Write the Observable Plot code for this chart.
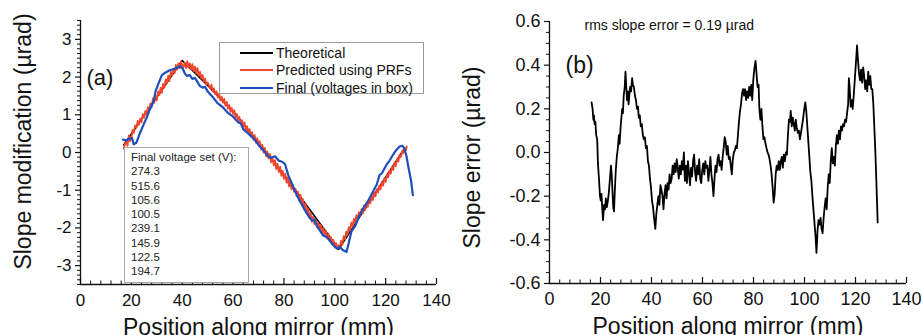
<!DOCTYPE html>
<html><head><meta charset="utf-8">
<script src="https://cdn.jsdelivr.net/npm/d3@7"></script>
<script src="https://cdn.jsdelivr.net/npm/@observablehq/plot@0.6"></script>
<style>
body{margin:0;background:#fff;font-family:"Liberation Sans",Arial,sans-serif;}
#wrap{display:flex;width:922px;height:335px;overflow:hidden;background:#fff;}
.panel{position:relative;width:461px;height:335px;}
.legend{position:absolute;left:219px;top:42px;width:203px;height:50px;border:1px solid #9a9a9a;background:#fff;font-size:14px;color:#111;}
.legend .row{position:absolute;left:20px;height:18px;display:flex;align-items:center;}
.legend .row span{margin-left:3px;white-space:nowrap;}
.vbox{position:absolute;left:124px;top:147px;width:117px;height:132px;border:1px solid #a8a8a8;background:#fff;font-size:11.5px;line-height:14.3px;color:#222;padding:2px 0 0 6px;box-sizing:content-box;}
</style></head><body>
<div id="wrap"><div class="panel" id="pa"></div><div class="panel" id="pb"></div></div>
<script>
// ---------- data ----------
const theoPts = [[17,0.20],[40,2.44],[50,1.78],[60,1.09],[70,0.27],[80,-0.59],[90,-1.50],[100,-2.42],[101.5,-2.57],[127,0.07]];
const predPts = [[17,0.10],[17.5,0.22],[18,0.28],[18.5,0.18],[19,0.45],[19.5,0.30],[20,0.38],[20.5,0.60],[21,0.52],[21.5,0.72],[22,0.66],[22.5,0.84],[23,0.74],[23.5,0.90],[24,0.80],[24.5,1.02],[25,0.92],[25.5,1.10],[26,1.00],[26.5,1.20],[27,1.10],[27.5,1.30],[28,1.20],[28.5,1.44],[29,1.32],[29.5,1.50],[30,1.38],[30.5,1.62],[31,1.52],[31.5,1.72],[32,1.58],[32.5,1.82],[33,1.72],[33.5,1.94],[34,1.84],[34.5,2.04],[35,1.90],[35.5,2.14],[36,2.04],[36.5,2.22],[37,2.10],[37.5,2.32],[38,2.20],[38.5,2.36],[39,2.24],[39.5,2.42],[40,2.32],[40.5,2.26],[41,2.38],[41.5,2.24],[42,2.42],[42.5,2.26],[43,2.36],[43.5,2.20],[44,2.34],[44.5,2.16],[45,2.28],[45.5,2.10],[46,2.24],[46.5,2.04],[47,2.14],[47.5,1.96],[48,2.06],[48.5,1.88],[49,1.96],[49.5,1.80],[50,1.86],[51,1.70],[51.5,1.80],[52,1.62],[52.5,1.70],[53,1.54],[53.5,1.62],[54,1.46],[54.5,1.56],[55,1.38],[55.5,1.48],[56,1.32],[56.5,1.42],[57,1.24],[57.5,1.34],[58,1.16],[58.5,1.26],[59,1.08],[59.5,1.18],[60,1.02],[60.5,1.12],[61,0.92],[61.5,1.02],[62,0.86],[62.5,0.94],[63,0.76],[63.5,0.86],[64,0.68],[64.5,0.80],[65,0.58],[65.5,0.70],[66,0.52],[66.5,0.62],[67,0.42],[67.5,0.54],[68,0.34],[68.5,0.46],[69,0.26],[69.5,0.38],[70,0.18],[70.5,0.30],[71,0.08],[71.5,0.20],[72,0.00],[72.5,0.12],[73,-0.10],[73.5,0.02],[74,-0.16],[74.5,-0.04],[75,-0.26],[75.5,-0.12],[76,-0.34],[76.5,-0.20],[77,-0.44],[77.5,-0.30],[78,-0.52],[78.5,-0.38],[79,-0.62],[79.5,-0.48],[80,-0.70],[80.5,-0.56],[81,-0.80],[81.5,-0.66],[82,-0.90],[82.5,-0.76],[83,-0.98],[83.5,-0.86],[84,-1.04],[84.5,-0.96],[85,-1.16],[85.5,-1.04],[86,-1.26],[86.5,-1.12],[87,-1.38],[87.5,-1.24],[88,-1.50],[88.5,-1.36],[89,-1.62],[89.5,-1.48],[90,-1.74],[90.5,-1.60],[91,-1.84],[91.5,-1.70],[92,-1.90],[92.5,-1.78],[93,-1.98],[93.5,-1.86],[94,-2.04],[94.5,-1.92],[95,-2.12],[95.5,-2.00],[96,-2.20],[96.5,-2.08],[97,-2.28],[97.5,-2.16],[98,-2.34],[98.5,-2.24],[99,-2.44],[99.5,-2.32],[100,-2.52],[100.5,-2.40],[101,-2.56],[101.5,-2.46],[102,-2.52],[102.5,-2.34],[103,-2.44],[103.5,-2.22],[104,-2.30],[104.5,-2.10],[105,-2.18],[105.5,-1.98],[106,-2.06],[106.5,-1.86],[107,-1.96],[107.5,-1.76],[108,-1.86],[108.5,-1.66],[109,-1.76],[109.5,-1.58],[110,-1.68],[110.5,-1.50],[111,-1.62],[111.5,-1.40],[112,-1.52],[112.5,-1.32],[113,-1.44],[113.5,-1.24],[114,-1.34],[114.5,-1.16],[115,-1.26],[115.5,-1.06],[116,-1.16],[116.5,-0.98],[117,-1.06],[117.5,-0.88],[118,-0.98],[118.5,-0.78],[119,-0.88],[119.5,-0.68],[120,-0.78],[120.5,-0.58],[121,-0.66],[121.5,-0.48],[122,-0.56],[122.5,-0.38],[123,-0.46],[123.5,-0.26],[124,-0.36],[124.5,-0.16],[125,-0.24],[125.5,-0.06],[126,-0.12],[126.5,0.04],[127,-0.02],[127.5,0.12],[128,0.06],[128.3,0.16]];
const finalPts = [[16.7,0.34],[18,0.32],[19,0.36],[20.3,0.38],[20.9,0.22],[22,0.26],[23,0.45],[24.8,0.74],[26,0.92],[27,1.10],[28.8,1.36],[29.5,1.62],[30.5,1.80],[32,2.05],[33,2.10],[35,2.18],[37,2.22],[38.5,2.26],[39.2,2.29],[40.2,2.22],[41,2.10],[41.8,2.03],[43,2.05],[44,1.95],[45,1.98],[47,1.76],[48,1.72],[49,1.74],[50,1.62],[52.3,1.45],[54,1.30],[56,1.20],[58,1.05],[60,0.95],[62,0.80],[63,0.78],[64,0.62],[66,0.50],[68,0.38],[70,0.20],[72,0.05],[73.9,-0.11],[75,-0.14],[76.5,-0.10],[78,-0.22],[79.1,-0.24],[80.4,-0.30],[81.7,-0.60],[83,-0.80],[84.5,-1.05],[86,-1.25],[88,-1.50],[90,-1.72],[91,-1.80],[92,-1.78],[93,-1.95],[95.4,-2.20],[97,-2.25],[98.5,-2.38],[100,-2.50],[101,-2.55],[102,-2.50],[103,-2.58],[104.6,-2.64],[105.5,-2.40],[106.5,-2.10],[108,-1.95],[109.5,-1.70],[111.1,-1.49],[113,-1.30],[115,-1.04],[116.5,-0.85],[117.6,-0.60],[118.5,-0.55],[120.3,-0.33],[121.5,-0.22],[122.9,-0.06],[124,0.05],[125.5,0.16],[126.5,0.18],[127.3,0.12],[128.2,-0.10],[128.8,-0.33],[130,-0.75],[130.7,-1.13]];
const errPts = [[16.5,0.23],[16.9,0.20],[17.2,0.15],[17.4,0.17],[17.7,0.13],[18.0,0.14],[18.3,0.08],[18.7,0.06],[19.0,-0.05],[19.4,-0.12],[19.8,-0.20],[20.1,-0.22],[20.4,-0.19],[20.7,-0.26],[21.0,-0.31],[21.4,-0.24],[21.8,-0.26],[22.1,-0.21],[22.5,-0.25],[22.9,-0.22],[23.3,-0.18],[23.7,-0.12],[24.1,-0.06],[24.4,-0.10],[24.7,-0.18],[25.0,-0.25],[25.3,-0.27],[25.6,-0.18],[26.0,-0.08],[26.4,-0.02],[26.8,0.02],[27.2,0.08],[27.5,0.04],[27.9,0.12],[28.2,0.16],[28.5,0.20],[28.8,0.18],[29.1,0.26],[29.5,0.30],[29.8,0.37],[30.1,0.30],[30.4,0.24],[30.7,0.28],[31.0,0.22],[31.3,0.26],[31.6,0.30],[32.0,0.28],[32.4,0.34],[32.7,0.31],[33.1,0.30],[33.5,0.26],[33.9,0.24],[34.3,0.20],[34.7,0.21],[35.0,0.16],[35.4,0.17],[35.8,0.12],[36.2,0.13],[36.6,0.08],[37.0,0.06],[37.4,0.07],[37.8,0.02],[38.2,0.03],[38.6,-0.04],[39.0,-0.06],[39.4,-0.12],[39.8,-0.16],[40.2,-0.22],[40.6,-0.25],[41.0,-0.30],[41.5,-0.35],[41.9,-0.28],[42.3,-0.24],[42.7,-0.20],[43.1,-0.24],[43.5,-0.15],[43.9,-0.17],[44.3,-0.20],[44.7,-0.26],[45.1,-0.19],[45.5,-0.15],[45.9,-0.21],[46.3,-0.14],[46.7,-0.17],[47.1,-0.10],[47.5,-0.14],[47.9,-0.12],[48.3,-0.06],[48.7,-0.10],[49.1,-0.05],[49.5,-0.09],[49.9,-0.03],[50.3,-0.07],[50.7,-0.12],[51.1,-0.06],[51.5,-0.10],[51.9,-0.04],[52.3,-0.08],[52.7,0.00],[53.1,-0.13],[53.5,-0.06],[53.9,-0.14],[54.3,-0.04],[54.7,-0.09],[55.1,-0.15],[55.5,-0.07],[55.9,-0.11],[56.3,-0.04],[56.7,-0.01],[57.1,-0.09],[57.5,-0.13],[57.9,-0.06],[58.3,-0.10],[58.7,-0.03],[59.1,-0.12],[59.5,-0.14],[59.9,-0.08],[60.3,-0.05],[60.7,-0.10],[61.1,-0.04],[61.5,-0.07],[61.9,-0.06],[62.3,-0.13],[62.7,-0.08],[63.1,-0.02],[63.5,-0.10],[63.9,-0.14],[64.3,-0.20],[64.7,-0.12],[65.1,-0.06],[65.5,-0.09],[65.9,-0.03],[66.3,-0.01],[66.7,-0.06],[67.1,-0.04],[67.5,-0.08],[67.9,-0.02],[68.3,0.02],[68.7,0.07],[69.1,0.05],[69.5,-0.01],[69.9,0.03],[70.3,-0.03],[70.7,-0.02],[71.1,-0.06],[71.5,-0.10],[71.9,-0.03],[72.3,0.00],[72.7,0.01],[73.1,0.03],[73.5,0.02],[73.9,0.08],[74.3,0.14],[74.7,0.19],[75.1,0.22],[75.5,0.27],[75.9,0.29],[76.3,0.26],[76.7,0.29],[77.1,0.24],[77.5,0.28],[77.9,0.25],[78.3,0.30],[78.7,0.26],[79.1,0.31],[79.5,0.24],[79.9,0.33],[80.3,0.38],[80.8,0.42],[81.2,0.36],[81.6,0.30],[82.0,0.31],[82.3,0.20],[82.7,0.15],[83.1,0.20],[83.5,0.12],[83.9,0.06],[84.3,0.07],[84.7,0.04],[85.1,0.02],[85.5,0.00],[85.9,-0.01],[86.3,-0.03],[86.7,-0.06],[87.1,-0.10],[87.5,-0.16],[87.9,-0.23],[88.3,-0.19],[88.7,-0.10],[89.1,-0.06],[89.5,-0.08],[89.9,-0.04],[90.3,-0.08],[90.7,-0.04],[91.1,-0.02],[91.5,-0.07],[91.9,-0.01],[92.3,-0.04],[92.7,0.00],[93.1,-0.01],[93.5,0.08],[93.9,0.15],[94.3,0.14],[94.6,0.19],[95.0,0.12],[95.4,0.16],[95.8,0.13],[96.2,0.10],[96.6,0.15],[97.0,0.11],[97.4,0.09],[97.8,0.10],[98.2,0.06],[98.6,0.09],[99.0,0.12],[99.4,0.15],[99.8,0.19],[100.3,0.23],[100.7,0.19],[101.1,0.12],[101.5,0.05],[101.9,-0.02],[102.3,-0.09],[102.7,-0.13],[103.1,-0.20],[103.5,-0.26],[103.9,-0.32],[104.3,-0.38],[104.7,-0.46],[105.1,-0.36],[105.5,-0.31],[105.9,-0.33],[106.3,-0.30],[106.7,-0.35],[107.1,-0.37],[107.5,-0.30],[107.9,-0.25],[108.3,-0.21],[108.7,-0.26],[109.1,-0.16],[109.5,-0.10],[109.9,-0.14],[110.3,-0.04],[110.7,0.02],[111.1,-0.05],[111.5,-0.02],[111.9,-0.06],[112.3,0.03],[112.7,0.08],[113.1,0.04],[113.5,0.10],[113.9,0.06],[114.3,0.12],[114.7,0.10],[115.1,0.13],[115.5,0.12],[115.9,0.15],[116.3,0.14],[116.7,0.18],[117.1,0.22],[117.4,0.34],[117.7,0.30],[118.1,0.21],[118.5,0.24],[118.9,0.20],[119.3,0.26],[119.7,0.33],[120.1,0.40],[120.6,0.49],[121.0,0.42],[121.4,0.36],[121.8,0.33],[122.2,0.38],[122.6,0.32],[123.0,0.39],[123.4,0.35],[123.8,0.29],[124.2,0.33],[124.6,0.28],[125.0,0.37],[125.4,0.31],[125.8,0.35],[126.2,0.29],[126.6,0.29],[127.0,0.22],[127.4,0.11],[127.8,0.00],[128.2,-0.14],[128.7,-0.32]];

const seriesNames = ["Theoretical", "Predicted using PRFs", "Final (voltages in box)"];
const seriesColors = ["#000000", "#f2452c", "#1f4fbd"];
const voltageTitle = "Final voltage set (V):";
const voltages = ["274.3", "515.6", "105.6", "100.5", "239.1", "145.9", "122.5", "194.7"];

const xTicks = [0, 20, 40, 60, 80, 100, 120, 140];
const xMinor = [4, 8, 12, 16, 24, 28, 32, 36, 44, 48, 52, 56, 64, 68, 72, 76, 84, 88, 92, 96, 104, 108, 112, 116, 124, 128, 132, 136];
const yTicksA = [-3, -2, -1, 0, 1, 2, 3];
const yMinorA = [-3.5, -3.375, -3.25, -3.125, -2.875, -2.75, -2.625, -2.5, -2.375, -2.25, -2.125, -1.875, -1.75, -1.625, -1.5, -1.375, -1.25, -1.125, -0.875, -0.75, -0.625, -0.5, -0.375, -0.25, -0.125, 0.125, 0.25, 0.375, 0.5, 0.625, 0.75, 0.875, 1.125, 1.25, 1.375, 1.5, 1.625, 1.75, 1.875, 2.125, 2.25, 2.375, 2.5, 2.625, 2.75, 2.875, 3.125, 3.25, 3.375, 3.5];
const yTicksB = [-0.6, -0.4, -0.2, 0.0, 0.2, 0.4, 0.6];
const yMinorB = [-0.55, -0.5, -0.45, -0.35, -0.3, -0.25, -0.15, -0.1, -0.05, 0.05, 0.1, 0.15, 0.25, 0.3, 0.35, 0.45, 0.5, 0.55];

const xLabel = "Position along mirror (mm)";
const yLabelA = "Slope modification (\u00b5rad)";
const yLabelB = "Slope error (\u00b5rad)";
const rmsText = "rms slope error = 0.19 \u00b5rad";

// ---------- drawing ----------
const FONT = "'Liberation Sans', Arial, sans-serif";
const W = 461, H = 335;

function axesMarks(opts) {
  const {xDom, yDom, yTicks, yMinor, yFmt, innerH, fs} = opts;
  return [
    Plot.ruleX([xDom[0]], {stroke: "#111", strokeWidth: 1.3}),
    Plot.ruleY([yDom[0]], {stroke: "#111", strokeWidth: 1.3}),
    Plot.tickX(xTicks, {x: d => d, insetTop: innerH - 6, stroke: "#111", strokeWidth: 1.2}),
    Plot.tickX(xMinor, {x: d => d, insetTop: innerH - 3.5, stroke: "#111", strokeWidth: 1}),
    Plot.axisX({ticks: xTicks, tickSize: 0, tickPadding: 9, fontSize: fs, label: null, tickFormat: d => String(d), fill: "#111"}),
    Plot.axisY({ticks: yTicks, tickSize: 5, tickPadding: 4, fontSize: fs, label: null, tickFormat: yFmt, fill: "#111", stroke: "#111", strokeWidth: 1.2}),
    Plot.axisY({ticks: yMinor, tickSize: 3, label: null, fill: "none", stroke: "#111", strokeWidth: 1})
  ];
}

const innerA = H - 20 - 51;
const plotA = Plot.plot({
  width: W, height: H,
  marginLeft: 80, marginRight: 25, marginTop: 20, marginBottom: 51,
  style: {fontFamily: FONT, background: "transparent", overflow: "visible", color: "#111"},
  x: {domain: [0, 140], label: null},
  y: {domain: [-3.5, 3.5], label: null},
  marks: [
    ...axesMarks({xDom: [0, 140], yDom: [-3.5, 3.5], yTicks: yTicksA, yMinor: yMinorA, yFmt: d => String(d), innerH: innerA, fs: 17}),
    Plot.line(theoPts, {x: d => d[0], y: d => d[1], stroke: seriesColors[0], strokeWidth: 1.6}),
    Plot.line(predPts, {x: d => d[0], y: d => d[1], stroke: seriesColors[1], strokeWidth: 1.8}),
    Plot.line(finalPts, {x: d => d[0], y: d => d[1], stroke: seriesColors[2], strokeWidth: 2.2}),
    Plot.text(["(a)"], {frameAnchor: "top-left", dx: 6, dy: 57, textAnchor: "start", lineAnchor: "middle", fontSize: 22, fill: "#111"}),
    Plot.text([yLabelA], {frameAnchor: "left", rotate: -90, dx: -57, dy: -11, textAnchor: "middle", lineAnchor: "middle", fontSize: 23, fill: "#111"}),
    Plot.text([xLabel], {frameAnchor: "bottom", dy: 43, textAnchor: "middle", lineAnchor: "middle", fontSize: 23, fill: "#111"})
  ]
});
document.getElementById("pa").appendChild(plotA);

const innerB = H - 21 - 52;
const plotB = Plot.plot({
  width: W, height: H,
  marginLeft: 88, marginRight: 16, marginTop: 21, marginBottom: 52,
  style: {fontFamily: FONT, background: "transparent", overflow: "visible", color: "#111"},
  x: {domain: [0, 140], label: null},
  y: {domain: [-0.6, 0.6], label: null},
  marks: [
    ...axesMarks({xDom: [0, 140], yDom: [-0.6, 0.6], yTicks: yTicksB, yMinor: yMinorB, yFmt: d => d.toFixed(1), innerH: innerB, fs: 18}),
    Plot.line(errPts, {x: d => d[0], y: d => d[1], stroke: "#000", strokeWidth: 1.8}),
    Plot.text(["(b)"], {frameAnchor: "top-left", dx: 16, dy: 44, textAnchor: "start", lineAnchor: "middle", fontSize: 23, fill: "#111"}),
    Plot.text([rmsText], {frameAnchor: "top-left", dx: 35, dy: 4, textAnchor: "start", lineAnchor: "middle", fontSize: 14, fill: "#111"}),
    Plot.text([yLabelB], {frameAnchor: "left", rotate: -90, dx: -77, dy: 5, textAnchor: "middle", lineAnchor: "middle", fontSize: 23, fill: "#111"}),
    Plot.text([xLabel], {frameAnchor: "bottom", dy: 43, textAnchor: "middle", lineAnchor: "middle", fontSize: 23, fill: "#111"})
  ]
});
document.getElementById("pb").appendChild(plotB);

// legend (panel a)
const leg = document.createElement("div");
leg.className = "legend";
const rowTops = [1, 18, 36];
seriesNames.forEach((name, i) => {
  const row = document.createElement("div");
  row.className = "row";
  row.style.top = rowTops[i] + "px";
  row.innerHTML = `<svg width="33" height="6"><line x1="0" y1="3" x2="33" y2="3" stroke="${seriesColors[i]}" stroke-width="2.2"/></svg><span>${name}</span>`;
  leg.appendChild(row);
});
document.getElementById("pa").appendChild(leg);

// voltage box (panel a)
const vb = document.createElement("div");
vb.className = "vbox";
vb.innerHTML = [voltageTitle, ...voltages].map(s => `<div>${s}</div>`).join("");
document.getElementById("pa").appendChild(vb);
</script>
</body></html>
